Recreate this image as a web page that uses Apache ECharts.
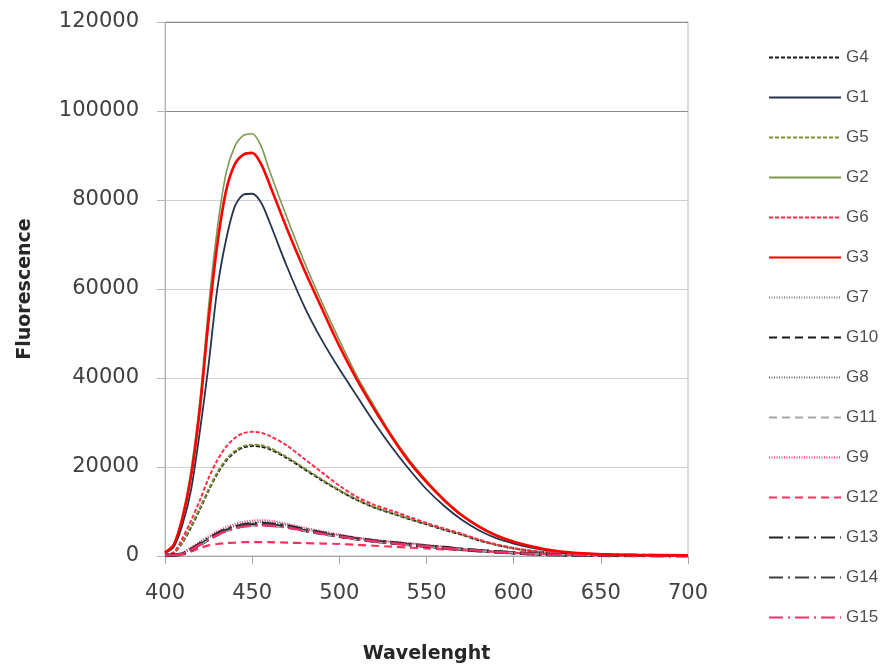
<!DOCTYPE html>
<html>
<head>
<meta charset="utf-8">
<script src="https://cdn.jsdelivr.net/npm/echarts@6/dist/echarts.min.js"></script>
<style>
  html, body { margin: 0; padding: 0; background: #fff; }
  #chart { width: 893px; height: 669px; }
</style>
</head>
<body>
<div id="chart"></div>
<script>
// wavelength (nm) and fluorescence readings per sample
const wavelength = [400,405,410,415,420,425,430,435,440,445,450,455,460,470,480,490,500,510,520,530,540,550,560,570,580,590,600,610,620,630,640,650,670,700];

const g1 = [700,2000,7000,15000,28000,43000,60000,71000,78500,81200,81400,79500,75000,65000,56000,48500,42000,36000,30000,24500,19500,15000,11300,8200,5800,4000,2800,1900,1200,800,550,400,250,150];
const g2 = [900,2600,9000,19500,35000,56000,73500,86000,92000,94500,94900,92200,86500,76000,66000,57000,48500,40500,33700,27200,21700,17000,12800,9400,6800,4700,3300,2200,1400,900,600,400,250,150];
const g3 = [800,2500,8500,18000,33000,53000,70000,82000,88000,90200,90600,88200,83500,73500,64200,55600,47200,39700,33000,26800,21200,16600,12600,9200,6600,4600,3200,2200,1400,900,600,400,250,150];
const g4 = [300,700,3000,6500,10500,14700,18500,21400,23300,24400,24700,24600,24000,22000,19500,17000,14700,12600,10900,9600,8300,7100,5900,4800,3500,2500,1700,1100,750,500,360,270,170,100];
const g5 = [300,700,3200,6800,10800,15000,18800,21700,23600,24700,25000,24900,24300,22200,19700,17200,14800,12700,11000,9700,8400,7200,6000,4900,3600,2500,1700,1150,780,530,380,280,180,100];
const g6 = [300,800,4000,8000,12500,17500,21500,24500,26500,27600,27900,27700,27000,24800,21800,18800,15800,13300,11500,10200,8800,7400,6200,5000,3700,2600,1800,1200,800,550,400,300,200,100];
const g7 = [100,200,700,1800,3000,4200,5300,6200,6900,7400,7700,7800,7700,7100,6200,5400,4700,4100,3600,3200,2900,2500,2100,1700,1400,1100,800,550,400,300,200,150,100,50];
const g8 = [100,200,600,1600,2800,4000,5100,6000,6700,7200,7500,7600,7500,6900,6000,5200,4600,4000,3500,3100,2800,2400,2000,1600,1300,1000,750,550,400,300,200,150,100,50];
const g9 = [100,250,800,2000,3300,4500,5600,6500,7200,7700,8000,8100,8000,7300,6400,5600,4900,4200,3700,3300,2900,2500,2100,1700,1300,1000,750,550,400,300,200,150,100,50];
const g10 = [100,200,500,1400,2500,3700,4800,5700,6300,6800,7000,7100,7000,6500,5700,5000,4400,3800,3300,2900,2500,2200,1800,1500,1200,900,700,500,350,250,200,150,100,50];
const g11 = [100,200,500,1300,2400,3600,4700,5500,6100,6600,6800,6900,6800,6300,5600,4900,4300,3700,3200,2800,2400,2100,1800,1500,1200,900,700,500,350,250,200,150,100,50];
const g12 = [50,100,300,1000,1800,2400,2700,2900,3000,3100,3100,3100,3100,3000,2900,2800,2700,2500,2300,2100,1900,1700,1500,1300,1100,900,700,550,400,300,200,150,100,50];
const g13 = [100,200,500,1500,2700,3900,5000,5900,6500,7000,7200,7300,7200,6700,5900,5200,4500,3900,3400,3000,2600,2200,1900,1500,1200,950,700,500,350,250,200,150,100,50];
const g14 = [100,200,500,1400,2600,3800,4900,5800,6400,6900,7100,7200,7100,6600,5800,5100,4400,3800,3300,2900,2500,2200,1800,1500,1200,900,700,500,350,250,200,150,100,50];
const g15 = [100,200,500,1400,2500,3700,4700,5600,6200,6600,6800,6900,6800,6400,5700,5000,4400,3800,3300,2900,2500,2200,1800,1500,1200,900,700,500,350,250,200,150,100,50];

const legendOrder = ['G4','G1','G5','G2','G6','G3','G7','G10','G8','G11','G9','G12','G13','G14','G15'];

const yTicks = [0, 20000, 40000, 60000, 80000, 100000, 120000];

function pairs(vals) {
  return wavelength.map((w, i) => [w, vals[i]]);
}

// name, values, colour, width, dash pattern
const lines = [
  ['G1', g1, '#24344a', 1.8, 'solid'],
  ['G2', g2, '#7d9650', 1.6, 'solid'],
  ['G4', g4, '#1a1a1a', 2, [4, 2]],
  ['G5', g5, '#7f8f3a', 2, [4, 2]],
  ['G6', g6, '#ff2a4a', 2, [4, 2]],
  ['G7', g7, '#7f7f7f', 1.6, [1, 1.5]],
  ['G8', g8, '#6b6b6b', 1.6, [1, 1.5]],
  ['G9', g9, '#ff2f7a', 1.6, [1, 1.5]],
  ['G10', g10, '#1a1a1a', 3, [8, 5]],
  ['G11', g11, '#a6a6a6', 1.6, [8, 5]],
  ['G12', g12, '#ff3060', 2.2, [8, 5]],
  ['G13', g13, '#262626', 3.5, [14, 5, 2, 5]],
  ['G14', g14, '#404040', 1.6, [14, 5, 2, 5]],
  ['G15', g15, '#f0306a', 2.4, [14, 5, 2, 5]],
  ['G3', g3, '#ff0000', 2.6, 'solid']
];

const series = lines.map(l => ({
  name: l[0],
  type: 'line',
  data: pairs(l[1]),
  smooth: 0.3,
  symbol: 'none',
  showSymbol: false,
  lineStyle: { color: l[2], width: l[3], type: l[4] },
  itemStyle: { color: l[2] }
}));

const option = {
  backgroundColor: '#ffffff',
  animation: false,
  grid: {
    left: 165,
    right: 205,
    top: 22,
    bottom: 112,
    show: true,
    borderColor: '#b8b8b8',
    borderWidth: 1
  },
  legend: {
    data: legendOrder,
    orient: 'vertical',
    left: 763,
    top: 44,
    itemWidth: 72,
    itemHeight: 14,
    itemGap: 23,
    itemStyle: { opacity: 0 },
    textStyle: {
      fontFamily: 'Liberation Sans',
      fontSize: 17,
      color: '#505050'
    }
  },
  xAxis: {
    type: 'value',
    min: 400,
    max: 700,
    interval: 50,
    name: 'Wavelenght',
    nameLocation: 'middle',
    nameGap: 89,
    nameTextStyle: {
      fontFamily: 'DejaVu Sans',
      fontWeight: 'bold',
      fontSize: 19,
      color: '#262626'
    },
    axisLine: { lineStyle: { color: '#a6a6a6' } },
    axisTick: { show: true, length: 8, lineStyle: { color: '#a6a6a6' } },
    axisLabel: {
      margin: 27,
      fontFamily: 'DejaVu Sans',
      fontSize: 21,
      color: '#404040'
    },
    splitLine: { show: false }
  },
  yAxis: {
    type: 'value',
    min: 0,
    max: 120000,
    interval: 20000,
    name: 'Fluorescence',
    nameLocation: 'middle',
    nameRotate: 90,
    nameGap: 130,
    nameTextStyle: {
      fontFamily: 'DejaVu Sans',
      fontWeight: 'bold',
      fontSize: 19,
      color: '#262626'
    },
    axisLine: { show: true, lineStyle: { color: '#b8b8b8' } },
    axisTick: { show: true, length: 8, lineStyle: { color: '#b8b8b8' } },
    axisLabel: {
      margin: 26,
      fontFamily: 'DejaVu Sans',
      fontSize: 21,
      color: '#404040',
      formatter: v => String(v)
    },
    splitLine: {
      show: true,
      lineStyle: {
        color: yTicks.map(t => t >= 100000 ? '#8c8c8c' : '#d0d0d0'),
        width: 1.2
      }
    }
  },
  series: series
};

const chart = echarts.init(document.getElementById('chart'));
chart.setOption(option);
</script>
</body>
</html>
